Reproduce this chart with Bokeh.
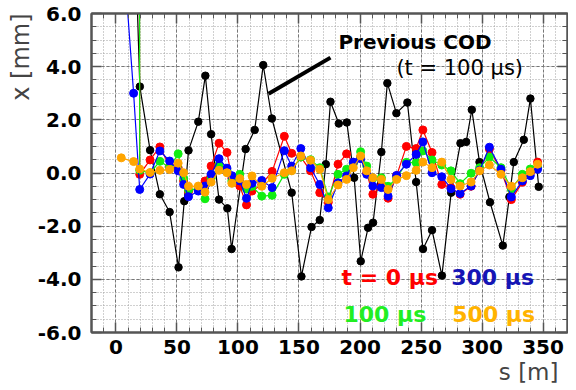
from bokeh.plotting import figure
from bokeh.models import Range1d, SingleIntervalTicker, LinearAxis, Label, PrintfTickFormatter, Arrow, Title
from bokeh.embed import file_html
from bokeh.resources import INLINE

# ---------------- data ----------------
BPM_S = [19.5, 28, 36, 44, 51, 55.5, 59.5, 67.5, 73, 78, 84.5, 91, 95, 101.5, 107, 111.5,
         119.5, 128, 138, 144, 151.5, 159.5, 167, 174, 182, 189, 194.5, 200.5, 205.5, 210.5,
         217.5, 223, 230, 238, 246, 251.5, 259, 267, 274.5, 282, 291, 298, 306, 315.5, 324,
         333, 339.5, 345.5]

RED_0US = [-0.05, 0.49, 0.98, 0.26, 0.2, -0.3, -0.7, -0.55, -0.3, 0.26, 1.12, 0.77, -0.2, -0.49,
           -1.2, -0.68, -0.43, 0.06, 1.38, 0.74, 0.6, 0.08, -0.74, -1.1, 0.33, 0.72, 0.39, 0.6,
           0.0, -0.8, -0.5, -0.95, -0.1, 1.0, 0.92, 1.62, 0.77, -0.43, -0.55, -0.8, -0.5, 0.1,
           0.9, 0.1, -1.0, -0.35, 0.0, 0.41]
GREEN_100US = [0.1, 0.0, 0.44, 0.2, 0.72, -0.2, -0.64, -0.6, -0.97, -0.2, 0.3, 0.1, -0.3, -0.05,
               -0.6, -0.5, -0.87, -0.84, -0.05, 0.1, 0.6, 0.5, 0.2, -0.9, -0.05, 0.14, 0.35, 0.8,
               0.26, -0.2, -0.18, -0.5, -0.2, 0.4, 0.39, 0.83, 0.49, 0.3, 0.08, -0.4, -0.01, 0.2,
               0.6, 0.2, -0.6, -0.05, 0.15, 0.2]
BLUE_300US = [-0.62, -0.04, 0.83, 0.45, 0.08, -0.43, -0.89, -0.68, -0.49, -0.05, 0.54, 0.18, -0.1,
              -0.3, -0.95, -0.39, -0.28, -0.55, 0.84, 0.26, 0.92, 0.2, -0.43, -1.31, -0.37, -0.11,
              0.41, 0.54, -0.05, -0.49, -0.55, -0.87, -0.09, 0.33, 0.7, 1.17, 0.01, -0.14, -0.59,
              -0.77, -0.49, 0.1, 0.97, 0.14, -0.9, -0.3, -0.1, 0.14]
ORANGE_500US = [0.15, 0.02, 0.1, 0.13, 0.37, 0.01, -0.5, -0.49, -0.72, -0.34, 0.1, 0.01, -0.39,
                -0.21, -0.43, -0.11, -0.5, -0.2, 0.01, 0.08, 0.64, 0.48, 0.14, -1.0, -0.45, -0.24,
                0.2, 0.64, 0.08, -0.18, -0.24, -0.62, -0.24, -0.1, 0.1, 0.41, 0.2, 0.41, -0.24,
                -0.49, -0.34, 0.08, 0.3, -0.05, -0.5, -0.18, 0.05, 0.33]

# first (injection) points of each series before the common BPM grid
RED_HEAD_S, RED_HEAD_X = [18.5], [30.0]
GREEN_HEAD_S, GREEN_HEAD_X = [19.0], [30.0]
BLUE_HEAD_S, BLUE_HEAD_X = [5.0, 14.5], [9.0, 3.0]
ORANGE_HEAD_S, ORANGE_HEAD_X = [4.4, 14.5], [0.57, 0.43]

PREV_S = [15, 19.6, 28, 36, 44, 51.3, 56, 59.5, 67.5, 73.3, 78, 84.5, 91.3, 94.8, 106.3, 113.7,
          120.7, 127.8, 144, 152, 160.3, 167, 172, 175.8, 182.6, 189.2, 195.2, 200.6, 206.6,
          210.7, 217.5, 222.4, 229.8, 238.8, 246, 251.6, 259, 267.1, 274.7, 282.3, 287, 291.6,
          297.9, 306.5, 317, 322.4, 326, 334.2, 339.6, 346.4]
PREV_X = [10.0, 3.25, 0.86, -0.8, -1.47, -3.55, -1.06, 0.85, 1.93, 3.66, 1.46, -1.0, -1.33, -2.86,
          0.9, 1.62, 4.06, 2.05, -0.74, -3.89, -2.03, -1.77, 0.33, 2.68, 1.86, 1.9, -0.18, -3.32,
          -2.06, -1.87, 0.79, 3.38, 2.25, 2.65, -0.34, -2.86, -2.15, -3.86, -0.74, 1.12, 1.17,
          2.38, 0.41, -1.1, -2.73, -0.9, 0.41, 1.25, 2.8, -0.52]

X_TICK_STEP = 50
Y_TICK_STEP = 2

# ---------------- figure ----------------
FONT = "DejaVu Sans"
FRAME = "#555555"

p = figure(frame_width=476, frame_height=319, x_range=Range1d(-20, 370), y_range=Range1d(-6, 6),
           output_backend="svg", toolbar_location=None,
           min_border_left=91, min_border_right=1, min_border_top=13, min_border_bottom=40)
p.background_fill_color = "white"
p.border_fill_color = "white"
p.outline_line_color = FRAME
p.outline_line_width = 2

xt = SingleIntervalTicker(interval=X_TICK_STEP, num_minor_ticks=5)
yt = SingleIntervalTicker(interval=Y_TICK_STEP, num_minor_ticks=4)
p.xaxis.ticker = xt
p.yaxis.ticker = yt
p.yaxis.formatter = PrintfTickFormatter(format="%.1f")

for ax in (p.xaxis, p.yaxis):
    ax.major_label_text_font = FONT
    ax.major_label_text_font_style = "bold"
    ax.major_label_text_font_size = "20px"
    ax.major_label_text_color = "black"
    ax.axis_line_color = FRAME
    ax.axis_line_width = 2
    ax.major_tick_in = 10
    ax.major_tick_out = 0
    ax.minor_tick_in = 5
    ax.minor_tick_out = 0
    ax.major_tick_line_color = FRAME
    ax.major_tick_line_width = 1.5
    ax.minor_tick_line_color = FRAME
    ax.minor_tick_line_width = 1
p.xaxis.major_label_standoff = 7
p.yaxis.major_label_standoff = 10

def mirror_axis(ticker):
    return LinearAxis(ticker=ticker, major_label_text_font_size="1px", major_label_text_color=None,
                      major_label_standoff=0, major_tick_in=10, major_tick_out=0,
                      minor_tick_in=5, minor_tick_out=0, axis_line_color=FRAME, axis_line_width=2,
                      major_tick_line_color=FRAME, minor_tick_line_color=FRAME,
                      major_tick_line_width=1.5)

p.add_layout(mirror_axis(xt), "above")
p.add_layout(mirror_axis(yt), "right")

for g in (p.xgrid, p.ygrid):
    g.grid_line_color = "#777777"
    g.grid_line_dash = "3 2"
    g.grid_line_width = 1
    g.minor_grid_line_color = "#a0a0a0"
    g.minor_grid_line_dash = "1 2"
    g.minor_grid_line_width = 1

# axis titles
p.add_layout(Title(text="x [mm]", align="right", text_font=FONT, text_font_size="24px",
                   text_font_style="normal", standoff=0, offset=0), "left")
p.add_layout(Title(text="s [m]", align="right", text_font=FONT, text_font_size="23px",
                   text_font_style="normal", standoff=0, offset=9), "below")

# ---------------- series ----------------
def series(s, x, color, size=8):
    p.line(s, x, line_color=color, line_width=1.2)
    p.scatter(s, x, size=size, fill_color=color, line_color=color)

series(PREV_S, PREV_X, "black", 7.5)
series(RED_HEAD_S + BPM_S, RED_HEAD_X + RED_0US, "#ff0000")
series(GREEN_HEAD_S + BPM_S, GREEN_HEAD_X + GREEN_100US, "#11ee11")
series(BLUE_HEAD_S + BPM_S, BLUE_HEAD_X + BLUE_300US, "#0000ff")
series(ORANGE_HEAD_S + BPM_S, ORANGE_HEAD_X + ORANGE_500US, "#ffa500")

# ---------------- annotations ----------------
POINTER = dict(x_start=125.1, y_start=2.98, x_end=175.8, y_end=4.34)
p.add_layout(Arrow(end=None, line_color="black", line_width=4, **POINTER))

def label(x, y, text, color="black", size="22px", style="normal"):
    p.add_layout(Label(x=x, y=y, text=text, text_color=color, text_font=FONT,
                       text_font_size=size, text_font_style=style,
                       text_align="left", text_baseline="middle"))

label(182.3, 4.94, "Previous COD", size="20px", style="bold")
label(229.8, 3.96, "(t = 100 μs)", size="21px")
label(184.8, -3.92, "t = 0 μs", color="#ff0000", style="bold")
label(274.7, -3.92, "300 μs", color="#1515b5", style="bold")
label(186.4, -5.32, "100 μs", color="#22ee22", style="bold")
label(275.6, -5.32, "500 μs", color="#ffb300", style="bold")

open("out.html", "w").write(file_html(p, INLINE))
